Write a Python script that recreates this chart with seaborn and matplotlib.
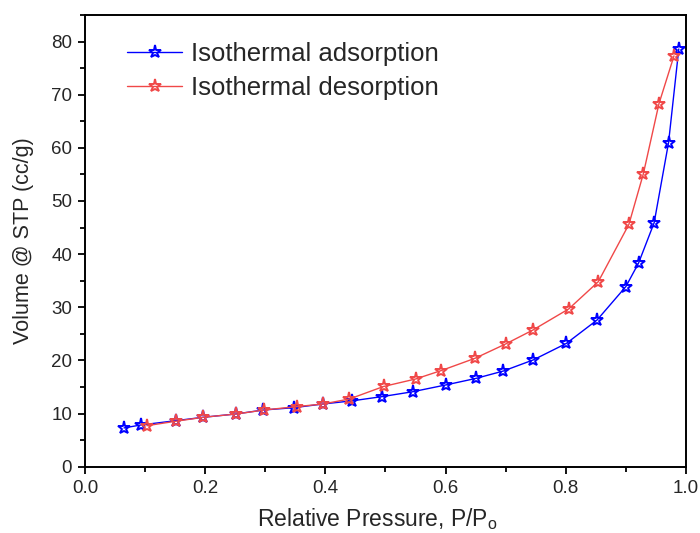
import matplotlib
matplotlib.use("Agg")
import matplotlib.pyplot as plt
import seaborn as sns
import pandas as pd
from matplotlib.ticker import MultipleLocator

ads_x = [0.065, 0.093, 0.151, 0.197, 0.251, 0.297, 0.347, 0.396, 0.445, 0.495,
         0.545, 0.601, 0.650, 0.696, 0.746, 0.801, 0.852, 0.900, 0.921, 0.947, 0.971, 0.988]
ads_y = [7.3, 7.85, 8.66, 9.3, 9.92, 10.67, 11.1, 11.8, 12.4, 13.2,
         14.1, 15.4, 16.6, 18.0, 20.1, 23.2, 27.6, 33.9, 38.3, 45.9, 61.0, 78.6]
des_x = [0.103, 0.151, 0.197, 0.252, 0.298, 0.352, 0.396, 0.440, 0.497,
         0.550, 0.593, 0.649, 0.700, 0.745, 0.805, 0.854, 0.905, 0.929, 0.955, 0.980]
des_y = [7.72, 8.55, 9.3, 9.92, 10.67, 11.3, 11.8, 12.74, 15.1,
         16.5, 18.1, 20.4, 23.1, 25.7, 29.7, 34.8, 45.6, 55.1, 68.3, 77.3]

sns.set_style("ticks")
plt.rcParams['font.family'] = ['Liberation Sans', 'DejaVu Sans']

fig = plt.figure(figsize=(7, 5.33), dpi=100)
ax = fig.add_axes([0.1214, 0.1244, 0.98 - 0.1214, 0.9719 - 0.1244])

ads = pd.DataFrame({"x": ads_x, "y": ads_y})
des = pd.DataFrame({"x": des_x, "y": des_y})

sns.lineplot(data=ads, x="x", y="y", ax=ax, color="#0000FF", linewidth=1.0,
             marker="*", markersize=9.5, markerfacecolor="none",
             markeredgecolor="#0000FF", markeredgewidth=1.4,
             sort=False, estimator=None, label="Isothermal adsorption")
sns.lineplot(data=des, x="x", y="y", ax=ax, color="#F04848", linewidth=1.0,
             marker="*", markersize=9.5, markerfacecolor="none",
             markeredgecolor="#F04848", markeredgewidth=1.4,
             sort=False, estimator=None, label="Isothermal desorption")

ax.set_xlim(0, 1.0)
ax.set_ylim(0, 85)
ax.xaxis.set_major_locator(MultipleLocator(0.2))
ax.xaxis.set_minor_locator(MultipleLocator(0.1))
ax.yaxis.set_major_locator(MultipleLocator(10))
ax.yaxis.set_minor_locator(MultipleLocator(5))
ax.tick_params(which="major", direction="out", length=5.3, width=1.3, labelsize=13.5,
               color="black", pad=4)
ax.tick_params(which="minor", direction="out", length=3.6, width=1.3, color="black")
for s in ax.spines.values():
    s.set_visible(True)
    s.set_linewidth(1.4)
    s.set_color("black")

ax.set_xlabel("Relative Pressure, P/P$_\\mathregular{o}$", fontsize=16.5)
ax.set_ylabel("Volume @ STP (cc/g)", fontsize=15.5)
ax.xaxis.set_label_coords(0.487, -0.088)
ax.yaxis.set_label_coords(-0.085, 0.5)

ax.legend(loc="upper left", frameon=False, fontsize=18.5, handlelength=2.15,
          handletextpad=0.35, labelspacing=0.42, borderpad=0, borderaxespad=0,
          bbox_to_anchor=(0.07, 0.941))

fig.savefig("out.png", dpi=100)
